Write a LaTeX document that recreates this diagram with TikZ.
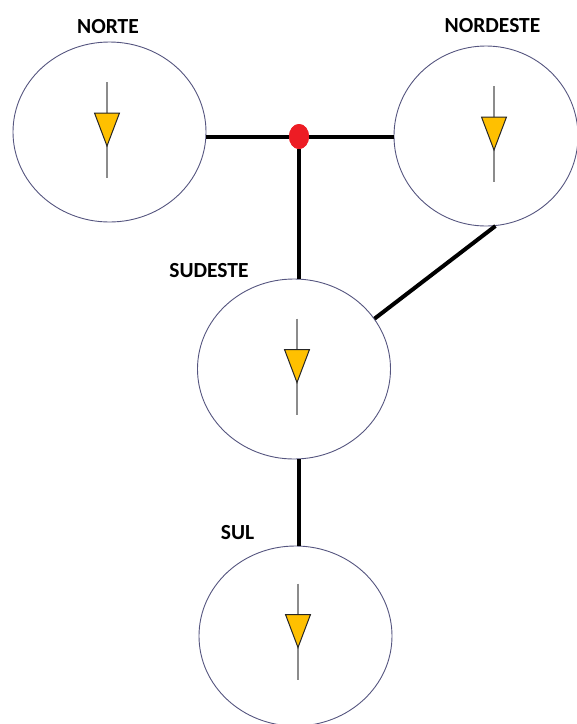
\documentclass[tikz,border=0pt]{standalone}
\usepackage{fontspec}
\setmainfont{Carlito}
\usetikzlibrary{shapes.geometric}
\definecolor{ringcol}{HTML}{55557F}
\definecolor{valvecol}{HTML}{FFC000}
\definecolor{dotcol}{HTML}{ED1C24}
\tikzset{
  region/.style={ellipse, draw=ringcol, line width=0.9pt, inner sep=0pt,
                 minimum width=#1, minimum height=180pt},
  region/.default=193pt,
  link/.style={line width=4pt, black},
  tag/.style={font=\bfseries\fontsize{21.5}{21.5}\selectfont, anchor=base, inner sep=0pt},
  junction/.style={ellipse, fill=dotcol, inner sep=0pt, minimum width=20pt, minimum height=25pt},
  stem/.style={draw=black!45, line width=1.6pt},
  valve/.style={fill=valvecol, draw=black!85, line width=1pt, line join=miter},
  pics/flowmark/.style={code={
    \draw[stem] (0,-48) -- (0,48);
    \draw[valve] (-12.5,-17) -- (12.5,-17) -- (0,16) -- cycle;
  }}
}
\begin{document}
\begin{tikzpicture}[x=1pt,y=-1pt]
\useasboundingbox (0,0) rectangle (577,724);
% regions
\node[region] (norte) at (109.5,132) {};
\node[region=184pt] (nordeste) at (486,136) {};
\node[region] (sudeste) at (294,369) {};
\node[region] (sul) at (295.5,636) {};
\node[junction] (hub) at (299,136.5) {};
% flow markers
\pic at (107,130) {flowmark};
\pic at (494,134) {flowmark};
\pic at (297,366.5) {flowmark};
\pic at (298,631.5) {flowmark};
% labels
\node[tag] (lnorte) at (108,33) {NORTE};
\node[tag] (lnordeste) at (492.5,32) {NORDESTE};
\node[tag] (lsudeste) at (209,277) {SUDESTE};
\node[tag] (lsul) at (237.5,539) {SUL};
% connectors
\draw[link] (norte.east |- hub) -- (hub);
\draw[link] (hub) -- (nordeste.west |- hub);
\draw[link] (hub) -- (hub |- sudeste.north);
\draw[link] (nordeste.-84) -- (sudeste.32);
\draw[link] (sudeste.south -| hub) -- (sul.north -| hub);
\node[junction] at (hub) {};
\end{tikzpicture}
\end{document}
